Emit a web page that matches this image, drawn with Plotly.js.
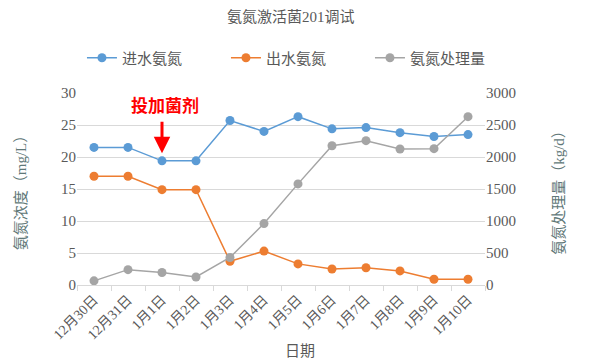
<!DOCTYPE html>
<html>
<head>
<meta charset="utf-8">
<script src="https://cdn.plot.ly/plotly-3.0.1.min.js"></script>
<style>html,body{margin:0;padding:0;background:#fff;}#chart{width:591px;height:361px;}</style>
</head>
<body>
<div id="chart"></div>
<script>
var dates = ["12月30日","12月31日","1月1日","1月2日","1月3日","1月4日","1月5日","1月6日","1月7日","1月8日","1月9日","1月10日"];
var inletNH3 = [21.5, 21.5, 19.4, 19.4, 25.7, 24.0, 26.3, 24.4, 24.6, 23.8, 23.2, 23.5];
var outletNH3 = [17.0, 17.0, 14.9, 14.9, 3.7, 5.3, 3.3, 2.5, 2.7, 2.2, 0.9, 0.9];
var removalLoad = [65, 240, 195, 125, 430, 960, 1580, 2175, 2255, 2125, 2130, 2630];
var seriesNames = ["进水氨氮", "出水氨氮", "氨氮处理量"];

var FONT = "'Liberation Serif', 'Times New Roman', 'Noto Sans CJK SC', serif";
var GRAY = "#595959";
var GRID = "#d9d9d9";

var traces = [
  {x: dates, y: inletNH3, name: seriesNames[0], type: "scatter", mode: "lines+markers",
   line: {color: "#5B9BD5", width: 1.5}, marker: {color: "#5B9BD5", size: 9}},
  {x: dates, y: outletNH3, name: seriesNames[1], type: "scatter", mode: "lines+markers",
   line: {color: "#ED7D31", width: 1.5}, marker: {color: "#ED7D31", size: 9}},
  {x: dates, y: removalLoad, name: seriesNames[2], type: "scatter", mode: "lines+markers", yaxis: "y2",
   line: {color: "#A5A5A5", width: 1.5}, marker: {color: "#A5A5A5", size: 9}}
];

var layout = {
  width: 591, height: 361,
  margin: {l: 77, r: 106, t: 93, b: 76, autoexpand: false},
  paper_bgcolor: "#fff", plot_bgcolor: "#fff",
  font: {family: FONT, color: GRAY, size: 14},
  title: {text: "氨氮激活菌201调试", font: {family: FONT, size: 15, color: GRAY},
          xref: "container", x: 0.492, xanchor: "center", yref: "container", y: 0.953, yanchor: "middle"},
  showlegend: true,
  legend: {orientation: "h", xref: "paper", x: -0.0001, xanchor: "left", yref: "paper", y: 1 + (93 - 58) / 192, yanchor: "middle",
           indentation: 5, font: {family: FONT, size: 15, color: GRAY}, entrywidth: 94, entrywidthmode: "pixels",
           bgcolor: "rgba(0,0,0,0)"},
  xaxis: {type: "category", range: [-0.5, 11.5], tickson: "boundaries", ticks: "outside", ticklen: 5, tickcolor: GRID,
          showline: true, linecolor: GRID, linewidth: 1, showgrid: false, tickangle: -45, automargin: false,
          tickfont: {family: FONT, size: 14, color: GRAY}, fixedrange: true},
  yaxis: {range: [0, 30], dtick: 5, showgrid: true, gridcolor: GRID, zeroline: false, showline: false,
          ticks: "", automargin: false, tickfont: {family: FONT, size: 15, color: GRAY},
          title: {text: "氨氮浓度（mg/L）", font: {family: FONT, size: 15, color: "#5f7878"}, standoff: 30}},
  yaxis2: {range: [0, 3000], dtick: 500, overlaying: "y", side: "right", showgrid: false, zeroline: false,
           showline: false, ticks: "", automargin: false, tickfont: {family: FONT, size: 15, color: GRAY},
           title: {text: "氨氮处理量（kg/d）", font: {family: FONT, size: 15, color: "#5f7878"}, standoff: 38}},
  annotations: [
    {xref: "x", yref: "y", x: "1月1日", y: 20.6, ax: 0, ay: -33, showarrow: true, text: "",
     arrowcolor: "#FF0000", arrowwidth: 3, arrowhead: 2, arrowsize: 1.1},
    {xref: "x", yref: "y", x: "1月1日", y: 28.2, xshift: 3, showarrow: false, text: "<b>投加菌剂</b>",
     font: {family: "'Noto Sans CJK SC', sans-serif", size: 17, color: "#FF0000"}},
    {xref: "paper", yref: "paper", x: (300 - 77) / 408, y: (285 - 351) / 192, showarrow: false, text: "日期",
     xanchor: "center", yanchor: "middle", font: {family: FONT, size: 15, color: GRAY}}
  ]
};

Plotly.newPlot("chart", traces, layout, {displayModeBar: false, staticPlot: true});
</script>
</body>
</html>
